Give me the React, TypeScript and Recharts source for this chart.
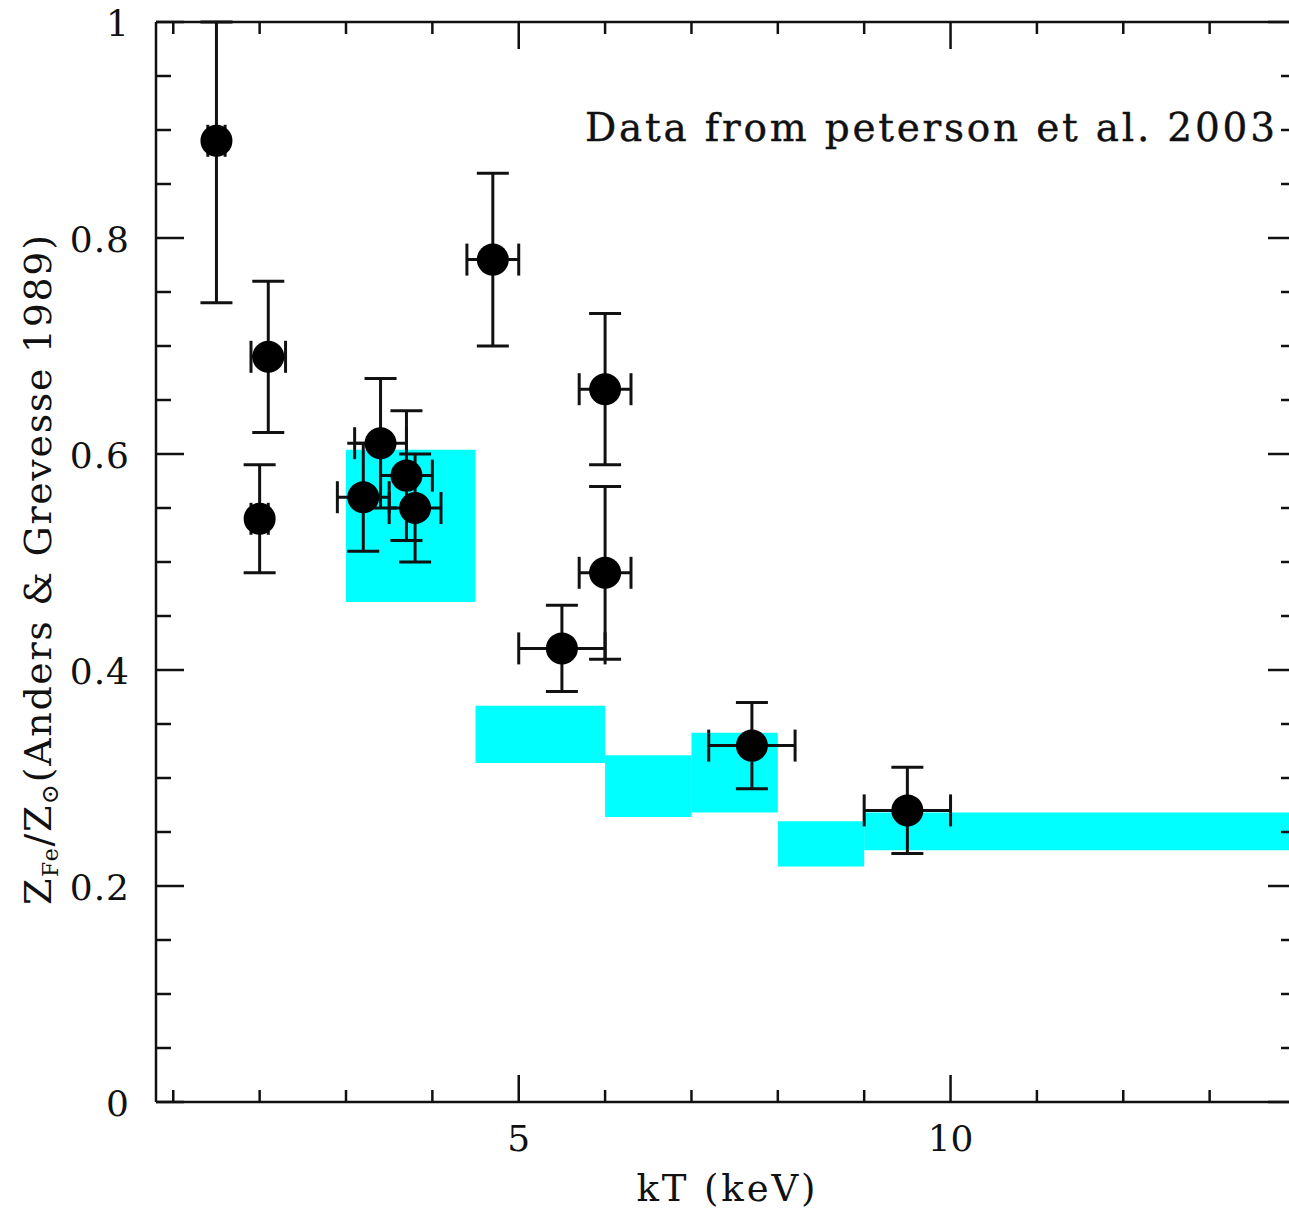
import React from "react"
import { ScatterChart, Scatter, XAxis, YAxis, ErrorBar, ReferenceArea } from "recharts"

const INK = "#111"
const CYAN = "#00ffff"
const FONT = "'DejaVu Serif', serif"

// measured points (Peterson et al. 2003)
const kT = [1.5, 2.1, 2.0, 3.2, 3.4, 3.7, 3.8, 4.7, 5.5, 6.0, 6.0, 7.7, 9.5]
const zFe = [0.89, 0.69, 0.54, 0.56, 0.61, 0.58, 0.55, 0.78, 0.42, 0.66, 0.49, 0.33, 0.27]
const kTErr = [0.1, 0.2, 0.1, 0.3, 0.3, 0.3, 0.3, 0.3, 0.5, 0.3, 0.3, 0.5, 0.5]
// [lower, upper]; the first bar runs off the top of the frame
const zFeErr: [number, number][] = [
  [0.15, 0.11], [0.07, 0.07], [0.05, 0.05], [0.05, 0.05], [0.06, 0.06], [0.06, 0.06], [0.05, 0.05],
  [0.08, 0.08], [0.04, 0.04], [0.07, 0.07], [0.08, 0.08], [0.04, 0.04], [0.04, 0.04],
]

// model bands (cyan boxes)
const bandLo = [3, 4.5, 6, 7, 8, 9]
const bandHi = [4.5, 6, 7, 8, 9, 14]
const bandBottom = [0.463, 0.314, 0.264, 0.268, 0.218, 0.233]
const bandTop = [0.604, 0.367, 0.321, 0.342, 0.26, 0.268]

const xTicks = [1, 2, 3, 4, 5, 6, 7, 8, 9, 10, 11, 12, 13, 14]
const xMajor = [5, 10]
const yTicks = [0, 0.05, 0.1, 0.15, 0.2, 0.25, 0.3, 0.35, 0.4, 0.45, 0.5, 0.55, 0.6, 0.65, 0.7, 0.75, 0.8, 0.85, 0.9, 0.95, 1]
const yMajor = [0, 0.2, 0.4, 0.6, 0.8, 1]

const points = kT.map((x, i) => ({ x, y: zFe[i], xerr: kTErr[i], yerr: zFeErr[i] }))

const X_DOMAIN: [number, number] = [0.8, 14]
const Y_DOMAIN: [number, number] = [0, 1]

const isMajor = (list: number[], v: number) => list.some((m) => Math.abs(m - v) < 1e-6)

const BottomTick = (props: any) => {
  const { x, y, payload } = props
  const major = isMajor(xMajor, payload.value)
  return (
    <g>
      <line x1={x} y1={y} x2={x} y2={y - (major ? 27 : 12)} stroke={INK} strokeWidth={2.5} />
      {major && (
        <text x={x} y={y + 36} textAnchor="middle" dominantBaseline="central" fontFamily={FONT} fontSize={36} fill={INK}>
          {payload.value}
        </text>
      )}
    </g>
  )
}

const TopTick = (props: any) => {
  const { x, y, payload } = props
  const major = isMajor(xMajor, payload.value)
  return <line x1={x} y1={y} x2={x} y2={y + (major ? 27 : 12)} stroke={INK} strokeWidth={2.5} />
}

const LeftTick = (props: any) => {
  const { x, y, payload } = props
  const major = isMajor(yMajor, payload.value)
  return (
    <g>
      <line x1={x} y1={y} x2={x + (major ? 28 : 15)} y2={y} stroke={INK} strokeWidth={2.5} />
      {major && (
        <text x={x - 26} y={y + 1} textAnchor="end" dominantBaseline="central" fontFamily={FONT} fontSize={36} fill={INK} letterSpacing={1}>
          {payload.value}
        </text>
      )}
    </g>
  )
}

const RightTick = (props: any) => {
  const { x, y, payload } = props
  const major = isMajor(yMajor, payload.value)
  return <line x1={x} y1={y} x2={x - (major ? 28 : 15)} y2={y} stroke={INK} strokeWidth={2.5} />
}

const Dot = (props: any) => <circle cx={props.cx} cy={props.cy} r={16} fill="#000" />

export default function App() {
  return (
    <div style={{ position: "absolute", left: 0, top: 0, width: 1289, height: 1210, overflow: "hidden", background: "#fff" }}>
      <ScatterChart width={1297} height={1210} margin={{ top: 21, right: 0, bottom: 0, left: 0 }}>
        <XAxis
          type="number"
          dataKey="x"
          domain={X_DOMAIN}
          allowDataOverflow
          ticks={xTicks}
          interval={0}
          height={108}
          tickSize={0}
          tickMargin={0}
          tickLine={false}
          axisLine={{ stroke: INK, strokeWidth: 2.5 }}
          tick={BottomTick}
        />
        <XAxis
          xAxisId="top"
          orientation="top"
          type="number"
          dataKey="x"
          domain={X_DOMAIN}
          allowDataOverflow
          ticks={xTicks}
          interval={0}
          height={1}
          tickSize={0}
          tickMargin={0}
          tickLine={false}
          axisLine={{ stroke: INK, strokeWidth: 2.5 }}
          tick={TopTick}
        />
        <YAxis
          type="number"
          dataKey="y"
          domain={Y_DOMAIN}
          allowDataOverflow
          ticks={yTicks}
          interval={0}
          width={156}
          tickSize={0}
          tickMargin={0}
          tickLine={false}
          axisLine={{ stroke: INK, strokeWidth: 2.5 }}
          tick={LeftTick}
        />
        <YAxis
          yAxisId="right"
          orientation="right"
          type="number"
          dataKey="y"
          domain={Y_DOMAIN}
          allowDataOverflow
          ticks={yTicks}
          interval={0}
          width={1}
          tickSize={0}
          tickMargin={0}
          tickLine={false}
          axisLine={{ stroke: INK, strokeWidth: 2.5 }}
          tick={RightTick}
        />
        {bandLo.map((lo, i) => (
          <ReferenceArea
            key={i}
            x1={lo}
            x2={bandHi[i]}
            y1={bandBottom[i]}
            y2={bandTop[i]}
            fill={CYAN}
            fillOpacity={1}
            stroke="none"
            ifOverflow="hidden"
          />
        ))}
        <Scatter data={points} shape={Dot} isAnimationActive={false}>
          <ErrorBar dataKey="yerr" direction="y" width={16} stroke={INK} strokeWidth={3} />
          <ErrorBar dataKey="xerr" direction="x" width={16} stroke={INK} strokeWidth={3} />
        </Scatter>
        {/* same points bound to the mirror axes so they get drawn; nothing visible */}
        <Scatter data={points} xAxisId="top" yAxisId="right" shape={() => <g />} isAnimationActive={false} />
        <text x={585} y={141} textLength={690} lengthAdjust="spacing" fontFamily={FONT} fontSize={39} fill={INK} stroke={INK} strokeWidth={0.4}>
          Data from peterson et al. 2003
        </text>
        <text x={726} y={1201} textAnchor="middle" textLength={179} lengthAdjust="spacing" fontFamily={FONT} fontSize={37} fill={INK}>
          kT (keV)
        </text>
        <text
          x={51}
          y={570}
          transform="rotate(-90 51 570)"
          textAnchor="middle"
          textLength={670}
          lengthAdjust="spacing"
          fontFamily={FONT}
          fontSize={38}
          fill={INK}
        >
          Z
          <tspan fontSize={22} dy={7}>Fe</tspan>
          <tspan dy={-7}>/Z</tspan>
          <tspan fontSize={24} dy={7}>⊙</tspan>
          <tspan dy={-7}>(Anders &amp; Grevesse 1989)</tspan>
        </text>
      </ScatterChart>
    </div>
  )
}
